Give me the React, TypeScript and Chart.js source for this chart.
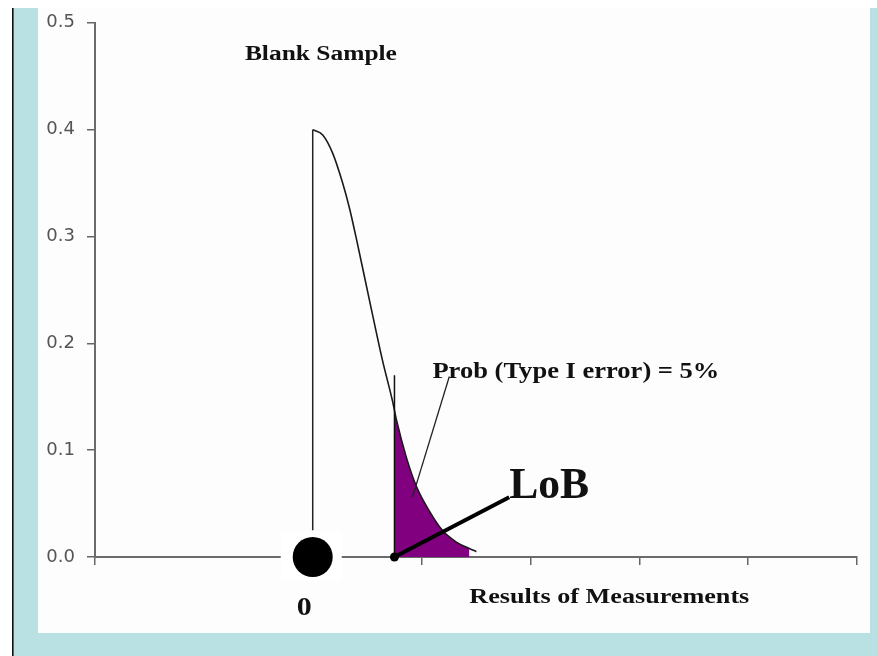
import React, { useEffect, useRef } from "react";
import { Chart, registerables } from "chart.js";

Chart.register(...registerables);

// ---- data (x in "results" units, 0 = blank mean; y = probability density) ----
const curveX = [0.0, 0.092, 0.183, 0.275, 0.339, 0.403, 0.522, 0.641, 0.733, 0.77, 0.861, 0.953, 1.072, 1.191, 1.319, 1.439, 1.503];
const curveY = [0.4, 0.395, 0.378, 0.35, 0.326, 0.297, 0.24, 0.184, 0.146, 0.128, 0.093, 0.066, 0.043, 0.025, 0.014, 0.008, 0.005];
const lobX = 0.751;
const lobCurveY = 0.135;
const lobLineTop = 0.17;
const fillEndX = 1.439;
const peakLine = [0.4, 0.025];
const thinPointerX = [1.255, 0.916];
const thinPointerY = [0.169, 0.056];
const thickPointerX = [0.751, 1.805];
const thickPointerY = [0.0, 0.056];
const yTicks = [0, 0.1, 0.2, 0.3, 0.4, 0.5];
const xRange = [-2, 5];
const hiddenXTicks = [-1];
const labels = ["Blank Sample", "Prob (Type I error) = 5%", "LoB", "Results of Measurements", "0"];

// annotation placement (data coords of left/baseline), font size, target width
const labelLayout = [
  { x: -0.623, y: 0.4655, size: 20, w: 152 },
  { x: 1.0995, y: 0.168, size: 23, w: 287 },
  { x: 1.805, y: 0.055, size: 44, w: 80 },
  { x: 1.4385, y: -0.0429, size: 20, w: 280 },
  { x: -0.147, y: -0.054, size: 25, w: 15 },
];

const BLUE = "#b9e0e3";

const framePlugin = {
  id: "frame",
  beforeDraw(chart: any) {
    const ctx = chart.ctx;
    const W = chart.width;
    const H = chart.height;
    ctx.save();
    ctx.fillStyle = "#ffffff";
    ctx.fillRect(0, 0, W, H);
    ctx.fillStyle = "#fdfdfd";
    ctx.fillRect(38, 8, W - 38 - 7, H - 8 - 23);
    ctx.fillStyle = BLUE;
    ctx.fillRect(13, 8, 25, H - 8);
    ctx.fillRect(13, H - 23, W - 13, 23);
    ctx.fillRect(W - 7, 8, 7, H - 8);
    ctx.fillStyle = "#111";
    ctx.fillRect(12, 8, 1.6, H - 8);
    ctx.restore();
  },
  beforeDatasetsDraw(chart: any) {
    const ctx = chart.ctx;
    const xs = chart.scales.x;
    const ys = chart.scales.y;
    const px = xs.getPixelForValue(0);
    const py = ys.getPixelForValue(0);
    ctx.save();
    ctx.fillStyle = "#ffffff";
    ctx.fillRect(px - 32, py - 26, 61, 50);
    ctx.restore();
  },
  afterDatasetsDraw(chart: any) {
    const ctx = chart.ctx;
    const xs = chart.scales.x;
    const ys = chart.scales.y;
    ctx.save();
    ctx.fillStyle = "#111";
    ctx.textBaseline = "alphabetic";
    labels.forEach((t, i) => {
      const l = labelLayout[i];
      ctx.font = `bold ${l.size}px "Liberation Serif", "Times New Roman", serif`;
      const m = ctx.measureText(t).width;
      ctx.save();
      ctx.translate(xs.getPixelForValue(l.x), ys.getPixelForValue(l.y));
      ctx.scale(l.w / m, 1);
      ctx.fillText(t, 0, 0);
      ctx.restore();
    });
    ctx.restore();
  },
};

export default function App() {
  const ref = useRef<HTMLCanvasElement | null>(null);

  useEffect(() => {
    document.body.style.margin = "0";
    const canvas = ref.current;
    if (!canvas) return;

    const curve = curveX.map((x, i) => ({ x, y: curveY[i] }));
    const purple = [{ x: lobX, y: lobCurveY }].concat(
      curve.filter((p) => p.x > lobX && p.x <= fillEndX)
    );

    const chart = new Chart(canvas, {
      type: "line",
      data: {
        datasets: [
          {
            data: purple,
            borderWidth: 0,
            borderColor: "rgba(0,0,0,0)",
            backgroundColor: "#800080",
            fill: "origin",
            pointRadius: 0,
            cubicInterpolationMode: "monotone",
            order: 10,
          },
          {
            data: curve,
            borderColor: "#1a1a1a",
            borderWidth: 1.6,
            pointRadius: 0,
            fill: false,
            cubicInterpolationMode: "monotone",
            order: 5,
          },
          {
            data: [
              { x: 0, y: peakLine[0] },
              { x: 0, y: peakLine[1] },
            ],
            borderColor: "#222",
            borderWidth: 1.5,
            pointRadius: 0,
            fill: false,
            order: 4,
          },
          {
            data: [
              { x: lobX, y: 0 },
              { x: lobX, y: lobLineTop },
            ],
            borderColor: "#111",
            borderWidth: 1.5,
            pointRadius: 0,
            fill: false,
            order: 4,
          },
          {
            data: thinPointerX.map((x, i) => ({ x, y: thinPointerY[i] })),
            borderColor: "#222",
            borderWidth: 1.3,
            pointRadius: 0,
            fill: false,
            order: 3,
          },
          {
            data: thickPointerX.map((x, i) => ({ x, y: thickPointerY[i] })),
            borderColor: "#000",
            borderWidth: 4,
            pointRadius: 0,
            fill: false,
            clip: false as any,
            order: 2,
          },
          {
            data: [
              { x: 0, y: 0 },
              { x: lobX, y: 0 },
            ],
            showLine: false,
            pointRadius: [20, 4.5] as any,
            pointBackgroundColor: "#000",
            pointBorderColor: "#000",
            pointBorderWidth: 0,
            clip: false as any,
            order: 1,
          },
        ] as any,
      },
      options: {
        animation: false,
        responsive: false,
        devicePixelRatio: 1,
        layout: { padding: { top: 21, right: 18, bottom: 0, left: 0 } },
        plugins: { legend: { display: false }, tooltip: { enabled: false } },
        scales: {
          x: {
            type: "linear",
            min: xRange[0],
            max: xRange[1],
            afterBuildTicks: (s: any) => {
              const t = [];
              for (let v = xRange[0]; v <= xRange[1]; v++) t.push({ value: v });
              s.ticks = t;
            },
            afterFit: (s: any) => {
              s.height = 99;
            },
            ticks: { display: false },
            grid: {
              drawOnChartArea: false,
              tickLength: 8,
              lineWidth: 1.5,
              color: "#666",
              tickColor: (c: any) =>
                c.tick && hiddenXTicks.includes(c.tick.value) ? "rgba(0,0,0,0)" : "#666",
            },
            border: { color: "#6b6b6b", width: 2 },
          },
          y: {
            type: "linear",
            min: 0,
            max: 0.5,
            afterBuildTicks: (s: any) => {
              s.ticks = yTicks.map((v) => ({ value: v }));
            },
            afterFit: (s: any) => {
              s.width = 95;
            },
            ticks: {
              padding: 12,
              color: "#555",
              font: { family: "'DejaVu Sans', sans-serif", size: 18 },
              callback: (v: any) => Number(v).toFixed(1),
            },
            grid: {
              drawOnChartArea: false,
              tickLength: 8,
              lineWidth: 1.5,
              color: "#666",
            },
            border: { color: "#6b6b6b", width: 2 },
          },
        },
      } as any,
      plugins: [framePlugin],
    });

    return () => chart.destroy();
  }, []);

  return (
    <div style={{ width: 877, height: 656, position: "relative" }}>
      <canvas ref={ref} width={877} height={656} style={{ display: "block" }} />
    </div>
  );
}
